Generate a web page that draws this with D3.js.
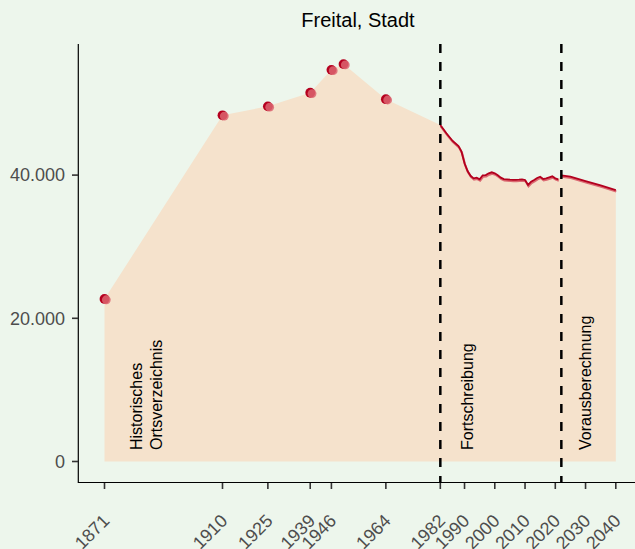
<!DOCTYPE html>
<html>
<head>
<meta charset="utf-8">
<script src="https://cdn.jsdelivr.net/npm/d3@7"></script>
<style>
  body { margin: 0; background: #EDF6EC; }
  text { font-family: "Liberation Sans", Arial, sans-serif; }
</style>
</head>
<body>
<script>
// Daten
const histYears = [1871, 1910, 1925, 1939, 1946, 1950, 1964];
const histValues = [22700, 48350, 49600, 51500, 54700, 55500, 50600];

const fortYears = [1982, 1984, 1986, 1988, 1989, 1990, 1991, 1992, 1993, 1994, 1995, 1996, 1997, 1998, 1999, 2000,
  2001, 2002, 2003, 2004, 2005, 2006, 2007, 2008, 2009, 2010, 2011, 2012, 2013, 2014, 2015, 2016, 2017, 2018, 2019, 2020, 2021];
const fortValues = [47000, 45840, 44800, 44060, 43270, 41650, 40570, 39900, 39550, 39640, 39410, 39970, 40010, 40250, 40390, 40250,
  39970, 39640, 39450, 39410, 39360, 39320, 39320, 39360, 39410, 39320, 38620, 39080, 39320, 39600, 39780, 39450, 39550, 39690, 39830, 39550, 39410];

const projYears = [2022, 2025, 2030, 2035, 2040];
const projValues = [39950, 39800, 39150, 38550, 37900];

const tickYears = [1871, 1910, 1925, 1939, 1946, 1964, 1982, 1990, 2000, 2010, 2020, 2030, 2040];
const yTicks = [0, 20000, 40000];
const breakYears = [1982, 2022];

const width = 635, height = 549;

const svg = d3.select("body").append("svg")
    .attr("width", width)
    .attr("height", height);

svg.append("rect")
    .attr("width", width)
    .attr("height", height)
    .attr("fill", "#EDF6EC");

// Skalen
const x = d3.scaleLinear().domain([1871, 2040]).range([104.5, 615.8]);
const y = d3.scaleLinear().domain([0, 60000]).range([461.5, 31.9]);

const allYears = histYears.concat(fortYears, projYears);
const allValues = histValues.concat(fortValues, projValues);
const allData = allYears.map((d, i) => ({ year: d, value: allValues[i] }));

// Flaeche
const area = d3.area()
    .x(d => x(d.year))
    .y0(y(0))
    .y1(d => y(d.value));

svg.append("path")
    .datum(allData)
    .attr("d", area)
    .attr("fill", "#F5E2CC");

// Linie Fortschreibung + Vorausberechnung
const line = d3.line()
    .x(d => x(d.year))
    .y(d => y(d.value));

const fortData = fortYears.map((d, i) => ({ year: d, value: fortValues[i] }));
const projData = projYears.map((d, i) => ({ year: d, value: projValues[i] }));

[fortData, projData].forEach(data => {
  svg.append("path")
      .datum(data)
      .attr("d", line)
      .attr("fill", "none")
      .attr("stroke", "#DB6A72")
      .attr("stroke-width", 2.2)
      .attr("transform", "translate(0.5,1.3)");
  svg.append("path")
      .datum(data)
      .attr("d", line)
      .attr("fill", "none")
      .attr("stroke", "#B3001E")
      .attr("stroke-width", 1.8);
});

// Punkte
const histData = histYears.map((d, i) => ({ year: d, value: histValues[i] }));

svg.selectAll(".pt-dark")
    .data(histData)
    .enter().append("circle")
    .attr("cx", d => x(d.year))
    .attr("cy", d => y(d.value))
    .attr("r", 4.9)
    .attr("fill", "#B5001F");

svg.selectAll(".pt-light")
    .data(histData)
    .enter().append("circle")
    .attr("cx", d => x(d.year) + 1.8)
    .attr("cy", d => y(d.value) + 0.8)
    .attr("r", 4.4)
    .attr("fill", "#DC6470")
    .attr("opacity", 0.85);

// Trennlinien
breakYears.forEach(yr => {
  svg.append("line")
      .attr("x1", x(yr)).attr("x2", x(yr))
      .attr("y1", 44).attr("y2", 483)
      .attr("stroke", "black")
      .attr("stroke-width", 2.5)
      .attr("stroke-dasharray", "9,9");
});

// Achsen
svg.append("line")
    .attr("x1", 78.3).attr("x2", 78.3)
    .attr("y1", 44).attr("y2", 483)
    .attr("stroke", "black")
    .attr("stroke-width", 1.2);

svg.append("line")
    .attr("x1", 78).attr("x2", width)
    .attr("y1", 482.5).attr("y2", 482.5)
    .attr("stroke", "black")
    .attr("stroke-width", 1.2);

const fmt = d3.formatLocale({ decimal: ",", thousands: ".", grouping: [3], currency: ["", "€"] }).format(",");

svg.selectAll(".ytick")
    .data(yTicks)
    .enter().append("line")
    .attr("x1", 72).attr("x2", 78)
    .attr("y1", d => y(d)).attr("y2", d => y(d))
    .attr("stroke", "#333")
    .attr("stroke-width", 1.6);

svg.selectAll(".ylab")
    .data(yTicks)
    .enter().append("text")
    .attr("x", 65)
    .attr("y", d => y(d))
    .attr("dy", "0.35em")
    .attr("text-anchor", "end")
    .attr("font-size", 18)
    .attr("fill", "#4D4D4D")
    .text(d => fmt(d));

svg.selectAll(".xtick")
    .data(tickYears)
    .enter().append("line")
    .attr("x1", d => x(d)).attr("x2", d => x(d))
    .attr("y1", 483).attr("y2", 489)
    .attr("stroke", "#333")
    .attr("stroke-width", 1.6);

svg.selectAll(".xlab")
    .data(tickYears)
    .enter().append("text")
    .attr("transform", d => `translate(${x(d) + 6},522) rotate(-45)`)
    .attr("text-anchor", "end")
    .attr("font-size", 18)
    .attr("fill", "#4D4D4D")
    .text(d => d);

// Titel
svg.append("text")
    .attr("x", 358)
    .attr("y", 27)
    .attr("text-anchor", "middle")
    .attr("font-size", 20)
    .attr("fill", "black")
    .text("Freital, Stadt");

// Beschriftungen
const notes = [
  { year: 1883.3, text: "Historisches" },
  { year: 1890, text: "Ortsverzeichnis" },
  { year: 1992.9, text: "Fortschreibung" },
  { year: 2031.8, text: "Vorausberechnung" }
];

svg.selectAll(".note")
    .data(notes)
    .enter().append("text")
    .attr("transform", d => `translate(${x(d.year)},450) rotate(-90)`)
    .attr("font-size", 16)
    .attr("fill", "black")
    .text(d => d.text);
</script>
</body>
</html>
